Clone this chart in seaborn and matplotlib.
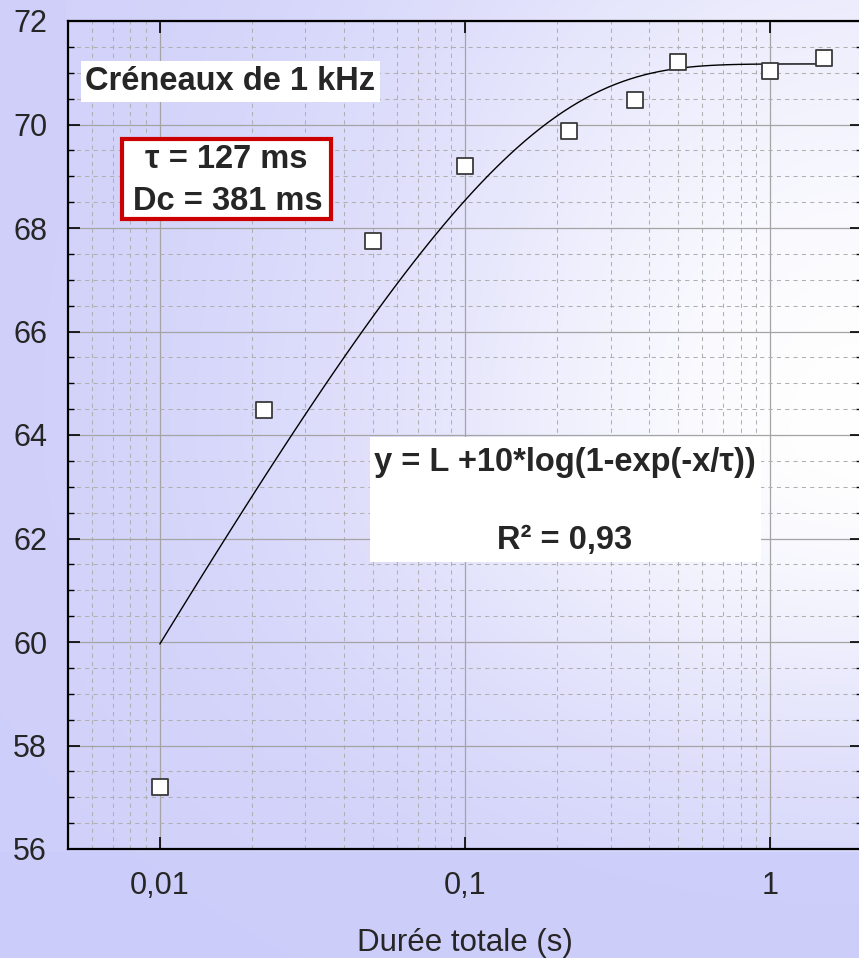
import numpy as np
import matplotlib
matplotlib.use("Agg")
import matplotlib.pyplot as plt
from matplotlib.ticker import FixedLocator, FixedFormatter, LogLocator, MultipleLocator, NullFormatter
from matplotlib.patches import Rectangle
import seaborn as sns

# Measured levels (dB) against total burst duration (s)
duree = [0.01, 0.022, 0.05, 0.1, 0.22, 0.36, 0.5, 1.0, 1.5]
niveau = [57.2, 64.48, 67.75, 69.2, 69.87, 70.47, 71.21, 71.03, 71.28]

# Fitted model: y = L + 10*log10(1 - exp(-x/tau))
tau = 0.127      # s  (127 ms)
L = 71.17        # dB plateau
fit_x = np.geomspace(0.01, 1.5, 90)
fit_y = L + 10 * np.log10(1 - np.exp(-fit_x / tau))

x_ticks = [0.01, 0.1, 1]
x_labels = ["0,01", "0,1", "1"]
y_ticks = list(range(56, 73, 2))

sns.set_style("ticks")
plt.rcParams["font.family"] = ["Liberation Sans", "DejaVu Sans"]

W, H = 859, 958
fig = plt.figure(figsize=(W / 100, H / 100), dpi=100)
fig.patch.set_facecolor("#ccccfa")

# Soft lavender-to-white background wash
bg = fig.add_axes([0, 0, 1, 1], zorder=-10)
X, Y = np.meshgrid(np.arange(W), np.arange(H))
xc, yc = 860.0, 430.0
sx, s_up, s_dn = 480.0, 600.0, 330.0
sy = np.where(Y < yc, s_up, s_dn)
t = 0.08 + 0.92 * np.exp(-((X - xc) / sx) ** 2 - ((Y - yc) / sy) ** 2)
t = np.where(Y > 851, t * 0.2, t)
t = np.where(X < 66, t * 0.6, t)
lav = np.array([204, 204, 250]) / 255.0
img = lav[None, None, :] + (1 - lav)[None, None, :] * t[..., None]
bg.imshow(img, extent=[0, W, H, 0], aspect="auto", interpolation="bilinear")
bg.set_xlim(0, W)
bg.set_ylim(H, 0)
bg.axis("off")

L0, B0 = 68, 849
AW, AH = 794, 828
ax = fig.add_axes([L0 / W, (H - B0) / H, AW / W, AH / H])
ax.set_facecolor("none")

def fx(px):
    return (px - L0) / AW

def fy(py):
    return (B0 - py) / AH

sns.lineplot(x=fit_x, y=fit_y, ax=ax, color="black", linewidth=1.0, zorder=4)
sns.scatterplot(x=duree, y=niveau, ax=ax, marker="s", s=145, color="white",
                edgecolor="#3a3a3a", linewidth=1.3, zorder=5)

ax.set_xscale("log")
ax.set_xlim(0.005, 2)
ax.set_ylim(56, 72)

ax.xaxis.set_major_locator(FixedLocator(x_ticks))
ax.xaxis.set_major_formatter(FixedFormatter(x_labels))
ax.xaxis.set_minor_locator(LogLocator(base=10, subs=np.arange(2, 10)))
ax.xaxis.set_minor_formatter(NullFormatter())
ax.yaxis.set_major_locator(FixedLocator(y_ticks))
ax.yaxis.set_minor_locator(MultipleLocator(0.5))

ax.set_axisbelow(True)
ax.grid(which="major", color="#a4a4a4", linewidth=0.9, linestyle="-")
ax.grid(which="minor", color="#b0b0b0", linewidth=0.75, linestyle=(0, (4, 4)))

ax.tick_params(axis="both", which="major", direction="in", labelsize=22,
               length=8.6, width=1.2, color="black")
ax.tick_params(axis="x", which="major", top=True, bottom=True, pad=16)
ax.tick_params(axis="x", which="minor", length=0)
ax.tick_params(axis="y", which="major", left=True, right=True, pad=15)
ax.tick_params(axis="y", which="minor", direction="in", left=True, right=True,
               length=4.3, width=1.0, color="black")

for side in ["left", "bottom", "top", "right"]:
    ax.spines[side].set_linewidth(1.6)
    ax.spines[side].set_color("black")

ax.set_xlabel("Durée totale (s)", fontsize=22.5, labelpad=19)
ax.set_ylabel("")

# Annotation boxes
ax.add_patch(Rectangle((fx(81), fy(102)), fx(380) - fx(81), fy(61) - fy(102),
                       transform=ax.transAxes, facecolor="white", edgecolor="none",
                       zorder=6))
ax.text(fx(230), fy(82), "Créneaux de 1 kHz", transform=ax.transAxes,
        ha="center", va="center", fontsize=23.5, fontweight="bold", zorder=7)

ax.add_patch(Rectangle((fx(122), fy(219)), fx(331) - fx(122), fy(139) - fy(219),
                       transform=ax.transAxes, facecolor="white", edgecolor="#cc0000",
                       linewidth=3, zorder=6))
ax.text(fx(226), fy(160), "τ = 127 ms", transform=ax.transAxes,
        ha="center", va="center", fontsize=23.5, fontweight="bold", zorder=7)
ax.text(fx(228), fy(201), "Dc = 381 ms", transform=ax.transAxes,
        ha="center", va="center", fontsize=23.5, fontweight="bold", zorder=7)

ax.add_patch(Rectangle((fx(370), fy(562)), fx(761) - fx(370), fy(437) - fy(562),
                       transform=ax.transAxes, facecolor="white", edgecolor="none",
                       zorder=6))
ax.text(fx(565), fy(462), "y = L +10*log(1-exp(-x/τ))", transform=ax.transAxes,
        ha="center", va="center", fontsize=23.5, fontweight="bold", zorder=7)
ax.text(fx(565), fy(540), "R² = 0,93", transform=ax.transAxes,
        ha="center", va="center", fontsize=23.5, fontweight="bold", zorder=7)

fig.savefig("out.png", dpi=100, facecolor=fig.get_facecolor())
